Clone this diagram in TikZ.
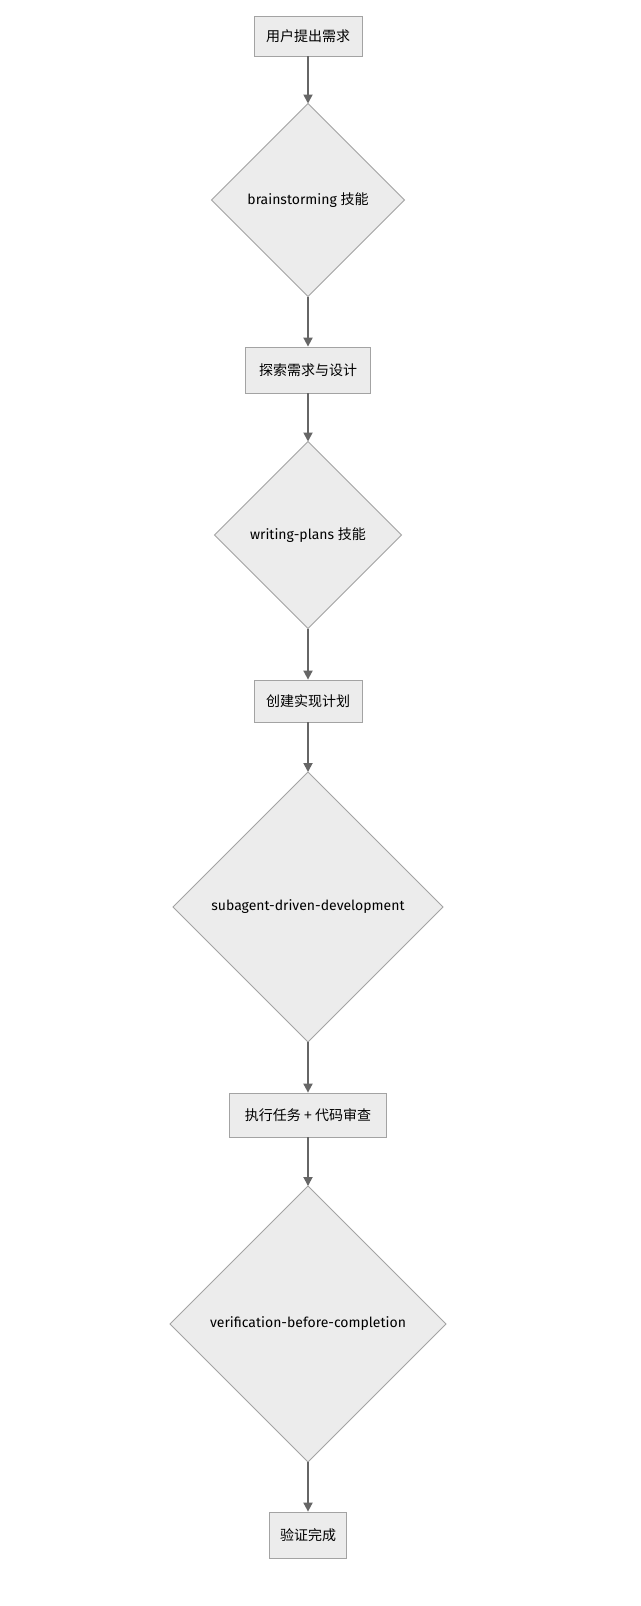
\documentclass[tikz,border=0pt]{standalone}
\usepackage{fontspec}
\setmainfont{Fira Sans}
\newfontfamily\cjk{Noto Sans CJK SC}
\usetikzlibrary{shapes.geometric,arrows.meta}
\definecolor{fillc}{HTML}{ECECEC}
\definecolor{linec}{HTML}{A3A3A3}
\definecolor{arrc}{HTML}{666666}
\tikzset{
 box/.style={draw=linec,fill=fillc,line width=0.8pt,inner sep=0pt,font=\cjk\fontsize{14}{16}\selectfont},
 dia/.style={diamond,draw=linec,fill=fillc,line width=0.8pt,inner sep=0pt,outer sep=0pt,aspect=1},
 lbl/.style={font=\fontsize{14}{16}\selectfont},
 arr/.style={draw=arrc,line width=1.8pt,-{Triangle[length=9pt,width=9pt]}}
}
\begin{document}
\begin{tikzpicture}[x=1pt,y=-1pt]
\fill[white,use as bounding box] (0,0) rectangle (640,1606);
\node[box,minimum width=108,minimum height=40] (b1) at (308,36) {用户提出需求};
\node[dia,minimum width=193,minimum height=193] (d1) at (308,200) {};
\node[lbl] (t1) at (308,200) {brainstorming {\cjk 技能}};
\node[box,minimum width=125,minimum height=46] (b2) at (308,370) {探索需求与设计};
\node[dia,minimum width=187,minimum height=187] (d2) at (308,535) {};
\node[lbl] (t2) at (308,535) {writing-plans {\cjk 技能}};
\node[box,minimum width=108,minimum height=42] (b3) at (308,701) {创建实现计划};
\node[dia,minimum width=270,minimum height=270] (d3) at (308,907) {};
\node[lbl] (t3) at (308,907) {subagent-driven-development};
\node[box,minimum width=157,minimum height=44] (b4) at (308,1115) {执行任务 + 代码审查};
\node[dia,minimum width=276,minimum height=276] (d4) at (308,1324) {};
\node[lbl] (t4) at (308,1324) {verification-before-completion};
\node[box,minimum width=77,minimum height=46] (b5) at (308,1535) {验证完成};
\draw[arr] (b1) -- (d1);
\draw[arr] (d1) -- (b2);
\draw[arr] (b2) -- (d2);
\draw[arr] (d2) -- (b3);
\draw[arr] (b3) -- (d3);
\draw[arr] (d3) -- (b4);
\draw[arr] (b4) -- (d4);
\draw[arr] (d4) -- (b5);
\end{tikzpicture}
\end{document}
